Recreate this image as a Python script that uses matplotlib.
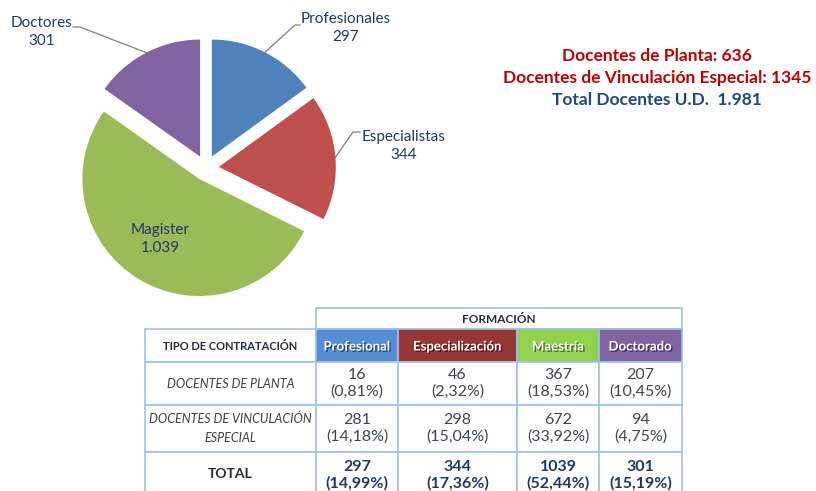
import numpy as np
import matplotlib
matplotlib.use("Agg")
import matplotlib.pyplot as plt
from matplotlib.patches import Rectangle
import matplotlib.patheffects as pe

plt.rcParams["font.family"] = ["Lato", "DejaVu Sans"]

# --- Datos ---
categorias = ["Profesionales", "Especialistas", "Magister", "Doctores"]
docentes = [297, 344, 1039, 301]
colores_pie = ["#4F81BD", "#C0504D", "#9BBB59", "#8064A2"]

niveles = ["Profesional", "Especialización", "Maestría", "Doctorado"]
colores_nivel = ["#558ED5", "#953735", "#92D050", "#8064A2"]
tipos = ["DOCENTES DE PLANTA", "DOCENTES DE VINCULACIÓN\nESPECIAL", "TOTAL"]
planta = [16, 46, 367, 207]
planta_pct = [0.81, 2.32, 18.53, 10.45]
vinculacion = [281, 298, 672, 94]
vinculacion_pct = [14.18, 15.04, 33.92, 4.75]
total = [297, 344, 1039, 301]
total_pct = [14.99, 17.36, 52.44, 15.19]

resumen = ["Docentes de Planta: 636",
           "Docentes de Vinculación Especial: 1345",
           "Total Docentes U.D.  1.981"]
colores_resumen = ["#C00000", "#C00000", "#1F497D"]

W, H = 816, 491
fig = plt.figure(figsize=(W / 100, H / 100), dpi=100)

# capa en pixeles para tabla y textos
ax0 = fig.add_axes([0, 0, 1, 1])
ax0.set_xlim(0, W)
ax0.set_ylim(H, 0)
ax0.axis("off")

# --- Pie ---
cx, cy, R = 206, 168, 117
L = 1.5
S = 2 * L * R
axp = fig.add_axes([(cx - S / 2) / W, (H - cy - S / 2) / H, S / W, S / H])
explode = 0.11
wedges, _ = axp.pie(docentes, colors=colores_pie, startangle=90,
                    counterclock=False, explode=[explode] * 4,
                    wedgeprops=dict(linewidth=0))
axp.set_xlim(-L, L)
axp.set_ylim(-L, L)
axp.axis("off")

navy = "#1F3864"
fmt = lambda v: f"{v:,}".replace(",", ".")

# posiciones de etiquetas (px) y codo de la guia
etq_pos = {"Profesionales": (346, 28, (295, 25), (300, 25)),
           "Especialistas": (404, 146, (353, 132), (360, 132)),
           "Doctores": (42, 32, (80, 27), (73, 27)),
           "Magister": (160, 239, None, None)}


def px2d(px, py):
    return (px - cx) / R, (cy - py) / R


for w, cat, val in zip(wedges, categorias, docentes):
    tx, ty, codo, fin = etq_pos[cat]
    axp.text(*px2d(tx, ty), f"{cat}\n{fmt(val)}", ha="center", va="center",
             fontsize=11, color=navy, linespacing=1.45)
    if codo is not None:
        ang = np.deg2rad((w.theta1 + w.theta2) / 2)
        r0 = 1 + explode
        p0 = (r0 * np.cos(ang), r0 * np.sin(ang))
        p1 = px2d(*codo)
        p2 = px2d(*fin)
        axp.plot([p0[0], p1[0], p2[0]], [p0[1], p1[1], p2[1]],
                 color="#7F7F7F", lw=0.9)

# --- Resumen a la derecha ---
for i, (t, c) in enumerate(zip(resumen, colores_resumen)):
    ax0.text(657, 56 + 22 * i, t, ha="center", va="center", fontsize=12.5,
             fontweight="bold", color=c)

# --- Tabla ---
borde = "#9DC3E6"
xs = [145, 316, 398, 517, 599, 682]
ys = [308, 329, 362, 405, 452, 500]
txt_gris = "#404040"
txt_num = "#3A4656"


def celda(x0, x1, y0, y1, fc="white"):
    ax0.add_patch(Rectangle((x0, y0), x1 - x0, y1 - y0, facecolor=fc,
                            edgecolor=borde, lw=1.2, zorder=1))


# FORMACION
celda(xs[1], xs[5], ys[0], ys[1])
ax0.text((xs[1] + xs[5]) / 2, (ys[0] + ys[1]) / 2 + 1, "FORMACIÓN",
         ha="center", va="center", fontsize=8.5, fontweight="bold",
         color="#1F2D3D")

# encabezados
celda(xs[0], xs[1], ys[1], ys[2])
ax0.text((xs[0] + xs[1]) / 2, (ys[1] + ys[2]) / 2 + 1, "TIPO DE CONTRATACIÓN",
         ha="center", va="center", fontsize=8, fontweight="bold",
         color="#1F2D3D")
for j, (niv, col) in enumerate(zip(niveles, colores_nivel)):
    celda(xs[j + 1], xs[j + 2], ys[1], ys[2], fc=col)
    ax0.text((xs[j + 1] + xs[j + 2]) / 2, (ys[1] + ys[2]) / 2 + 1, niv,
             ha="center", va="center", fontsize=9.5, fontweight="bold",
             color="white",
             path_effects=[pe.withSimplePatchShadow(offset=(1, -1),
                                                    shadow_rgbFace="black",
                                                    alpha=0.5)])

filas = [(planta, planta_pct), (vinculacion, vinculacion_pct),
         (total, total_pct)]
for i, (tipo, (vals, pcts)) in enumerate(zip(tipos, filas)):
    y0, y1 = ys[i + 2], ys[i + 3]
    ymid = (y0 + y1) / 2
    es_total = tipo == "TOTAL"
    celda(xs[0], xs[1], y0, y1)
    if es_total:
        ax0.text((xs[0] + xs[1]) / 2, ymid - 2, tipo, ha="center", va="center",
                 fontsize=10, fontweight="bold", color="#1F2D3D")
    else:
        ax0.text((xs[0] + xs[1]) / 2, ymid, tipo, ha="center", va="center",
                 fontsize=9, style="italic", color=txt_gris,
                 linespacing=1.75)
    for j, (v, p) in enumerate(zip(vals, pcts)):
        celda(xs[j + 1], xs[j + 2], y0, y1)
        s = f"{v}\n({p:.2f}%)".replace(".", ",")
        ax0.text((xs[j + 1] + xs[j + 2]) / 2, ymid if not es_total else ymid - 1,
                 s, ha="center", va="center", fontsize=11.5,
                 fontweight="bold" if es_total else "normal",
                 color=navy if es_total else txt_num, linespacing=1.2)

fig.savefig("out.png", dpi=100)
